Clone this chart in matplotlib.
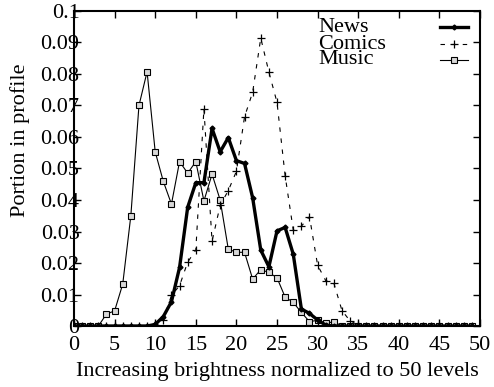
import numpy as np
import matplotlib
matplotlib.use("Agg")
import matplotlib.pyplot as plt
from matplotlib.lines import Line2D

plt.rcParams["font.family"] = ["Liberation Serif", "DejaVu Serif"]

# Brightness level bins 0..49
levels = list(range(50))

news = [0, 0, 0, 0, 0, 0, 0, 0, 0, 0,
        0.0005, 0.003, 0.0077, 0.0186, 0.0377, 0.0455, 0.0455, 0.0627, 0.0553, 0.0598,
        0.0525, 0.0516, 0.0407, 0.0241, 0.0188, 0.0302, 0.0313, 0.0228, 0.0054, 0.004,
        0.0019, 0.0003, 0, 0, 0, 0, 0, 0, 0, 0,
        0, 0, 0, 0, 0, 0, 0, 0, 0, 0]

comics = [0, 0, 0, 0, 0, 0, 0, 0, 0, 0,
          0.0003, 0.002, 0.0097, 0.0128, 0.0203, 0.0241, 0.0689, 0.0269, 0.0383, 0.043,
          0.0491, 0.0664, 0.0742, 0.0914, 0.0806, 0.071, 0.0477, 0.0305, 0.0317, 0.0347,
          0.0193, 0.0144, 0.0136, 0.0049, 0.0016, 0.0003, 0, 0, 0, 0,
          0, 0, 0, 0, 0, 0, 0, 0, 0, 0]

music = [0, 0, 0, 0, 0.0038, 0.0048, 0.0133, 0.035, 0.070, 0.0807,
         0.0553, 0.0459, 0.0387, 0.0522, 0.0485, 0.0522, 0.0397, 0.0482, 0.040, 0.0244,
         0.0234, 0.0234, 0.0149, 0.0179, 0.017, 0.0153, 0.0092, 0.0075, 0.0043, 0.0014,
         0.0018, 0.0008, 0.0014, 0, 0, 0, 0, 0, 0, 0,
         0, 0, 0, 0, 0, 0, 0, 0, 0, 0]

series_names = ["News", "Comics", "Music"]

x_ticks = [0, 5, 10, 15, 20, 25, 30, 35, 40, 45, 50]
y_ticks = [0, 0.01, 0.02, 0.03, 0.04, 0.05, 0.06, 0.07, 0.08, 0.09, 0.1]
y_tick_labels = ["0", "0.01", "0.02", "0.03", "0.04", "0.05", "0.06", "0.07", "0.08", "0.09", "0.1"]

styles = {
    "News": dict(color="black", lw=2.4, marker="D", ms=2.5, zorder=4),
    "Comics": dict(color="black", lw=0.8, ls=(0, (4, 6)), marker="+", ms=6, mew=0.9, zorder=3),
    "Music": dict(color="black", lw=0.8, marker="s", ms=4.5, mfc="#d8d8d8",
                  mec="black", mew=0.8, zorder=2),
}

fig = plt.figure(figsize=(4.94, 3.87), dpi=100)
ax = fig.add_axes([0.1498, 0.1576, 0.8219, 0.8140])

for name, values in zip(series_names, [news, comics, music]):
    ax.plot(levels, values, label=name, **styles[name])

ax.set_xlim(0, 50)
ax.set_ylim(0, 0.1)
ax.set_xticks(x_ticks)
ax.set_yticks(y_ticks)
ax.set_yticklabels(y_tick_labels)

for s in ax.spines.values():
    s.set_linewidth(1.5)

ax.tick_params(direction="in", top=True, right=True, length=5, width=1.0,
               labelsize=16)
ax.tick_params(axis="y", pad=-4)
ax.tick_params(axis="x", pad=7)

ax.set_xlabel("Increasing brightness normalized to 50 levels", fontsize=16, labelpad=5)
ax.set_ylabel("Portion in profile", fontsize=16)
ax.yaxis.set_label_coords(-0.108, 0.59)

# Key in the upper right: label text on the left, line sample on the right
key_rows = [0.949, 0.894, 0.845]
for name, yk in zip(series_names, key_rows):
    ax.text(0.601, yk, name, transform=ax.transAxes, fontsize=16,
            ha="left", va="center")
    st = dict(styles[name])
    st.pop("zorder")
    ax.add_line(Line2D([0.901, 0.9355, 0.970], [yk, yk, yk], transform=ax.transAxes,
                       markevery=[1], **st))

fig.savefig("out.png", dpi=100)
